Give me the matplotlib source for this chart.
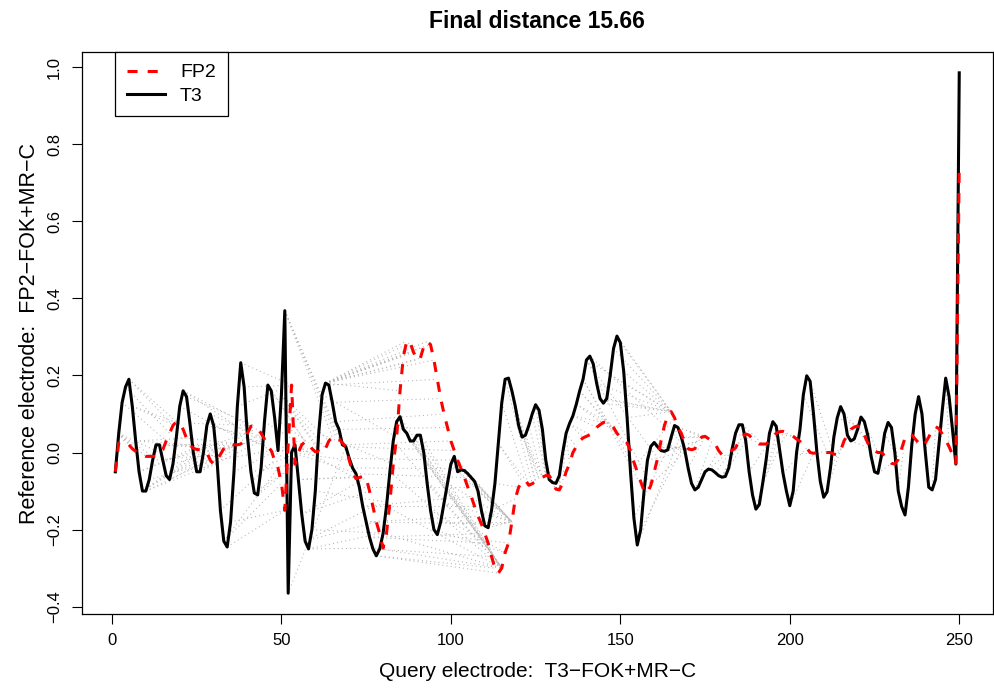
import numpy as np
import matplotlib
matplotlib.use("Agg")
import matplotlib.pyplot as plt

plt.rcParams['font.family'] = ['Liberation Sans', 'DejaVu Sans']

# ==========================================================
# DATA
# ==========================================================
# query series, T3-FOK+MR-C (black, solid), index 1..250
t3 = [
    -0.05, 0.05, 0.13, 0.17, 0.19, 0.12, 0.03, -0.05, -0.10, -0.10,
    -0.07, -0.02, 0.02, 0.02, -0.02, -0.06, -0.07, -0.03, 0.04, 0.12,
    0.16, 0.145, 0.076, 0.0, -0.05, -0.05, 0.0, 0.07, 0.10, 0.07,
    -0.02, -0.15, -0.23, -0.245, -0.18, -0.05, 0.12, 0.233, 0.17, 0.04,
    -0.05, -0.105, -0.11, -0.04, 0.08, 0.175, 0.16, 0.09, 0.005, 0.15,
    0.368, -0.365, 0.0, 0.02, -0.07, -0.16, -0.23, -0.25, -0.20, -0.10,
    0.05, 0.15, 0.18, 0.175, 0.13, 0.08, 0.06, 0.02, 0.015, -0.015,
    -0.04, -0.055, -0.09, -0.14, -0.18, -0.22, -0.25, -0.268, -0.25, -0.21,
    -0.14, -0.05, 0.03, 0.08, 0.093, 0.06, 0.05, 0.03, 0.03, 0.045,
    0.045, 0.0, -0.08, -0.15, -0.20, -0.213, -0.18, -0.13, -0.08, -0.03,
    -0.01, -0.05, -0.045, -0.047, -0.055, -0.065, -0.075, -0.10, -0.15, -0.19,
    -0.195, -0.15, -0.08, 0.024, 0.128, 0.19, 0.193, 0.16, 0.12, 0.07,
    0.04, 0.045, 0.07, 0.10, 0.124, 0.11, 0.06, -0.02, -0.07, -0.078,
    -0.08, -0.06, 0.0, 0.05, 0.075, 0.095, 0.125, 0.16, 0.19, 0.24,
    0.25, 0.23, 0.18, 0.14, 0.128, 0.14, 0.20, 0.27, 0.302, 0.285,
    0.21, 0.09, -0.05, -0.17, -0.24, -0.20, -0.10, -0.02, 0.016, 0.026,
    0.015, 0.005, 0.003, 0.007, 0.04, 0.07, 0.065, 0.04, 0.007, -0.04,
    -0.08, -0.097, -0.09, -0.07, -0.05, -0.043, -0.045, -0.052, -0.06, -0.064,
    -0.062, -0.04, 0.01, 0.05, 0.072, 0.072, 0.03, -0.05, -0.11, -0.147,
    -0.135, -0.08, -0.02, 0.05, 0.08, 0.068, 0.007, -0.054, -0.10, -0.138,
    -0.10, 0.0, 0.06, 0.15, 0.199, 0.185, 0.10, 0.0, -0.075, -0.116,
    -0.102, -0.04, 0.04, 0.09, 0.119, 0.10, 0.045, 0.03, 0.035, 0.06,
    0.092, 0.08, 0.045, -0.01, -0.05, -0.054, -0.01, 0.05, 0.078, 0.065,
    0.0, -0.10, -0.14, -0.162, -0.09, 0.02, 0.10, 0.145, 0.10, 0.0,
    -0.09, -0.097, -0.07, 0.02, 0.11, 0.193, 0.145, 0.06, -0.03, 0.985,
]

# reference series, FP2-FOK+MR-C (red, dashed), index 1..250
fp2 = [
    -0.05, 0.025, 0.028, 0.022, 0.02, 0.01, 0.003, -0.003, -0.006, -0.01,
    -0.01, -0.01, -0.01, 0.0, 0.007, 0.03, 0.05, 0.07, 0.08, 0.075,
    0.06, 0.037, 0.02, 0.011, 0.008, 0.007, 0.003, 0.0, -0.02, -0.03,
    -0.02, -0.005, 0.01, 0.02, 0.022, 0.02, 0.02, 0.022, 0.03, 0.05,
    0.068, 0.07, 0.062, 0.05, 0.035, 0.015, 0.005, -0.02, -0.04, -0.08,
    -0.15, 0.02, 0.175, -0.03, 0.0, 0.02, 0.028, 0.025, 0.01, 0.002,
    0.003, -0.002, 0.01, 0.03, 0.04, 0.042, 0.035, 0.025, 0.015, -0.02,
    -0.05, -0.068, -0.065, -0.062, -0.065, -0.10, -0.14, -0.18, -0.21, -0.248,
    -0.21, -0.13, -0.03, 0.04, 0.16, 0.25, 0.29, 0.285, 0.26, 0.24,
    0.245, 0.275, 0.288, 0.28, 0.24, 0.19, 0.14, 0.10, 0.065, 0.03,
    0.005, -0.02, -0.042, -0.065, -0.09, -0.114, -0.14, -0.165, -0.185, -0.21,
    -0.235, -0.27, -0.30, -0.313, -0.30, -0.26, -0.235, -0.18, -0.12, -0.09,
    -0.075, -0.072, -0.085, -0.081, -0.075, -0.068, -0.064, -0.06, -0.06, -0.075,
    -0.095, -0.097, -0.08, -0.05, -0.03, 0.0, 0.015, 0.03, 0.038, 0.042,
    0.046, 0.055, 0.065, 0.072, 0.078, 0.08, 0.075, 0.065, 0.05, 0.04,
    0.033, 0.025, 0.005, -0.025, -0.05, -0.075, -0.10, -0.105, -0.085, -0.05,
    -0.015, 0.03, 0.07, 0.095, 0.106, 0.09, 0.065, 0.05, 0.025, 0.01,
    0.007, 0.01, 0.03, 0.04, 0.042, 0.036, 0.03, 0.022, 0.005, -0.006,
    -0.006, -0.002, 0.006, 0.012, 0.03, 0.042, 0.048, 0.045, 0.035, 0.028,
    0.022, 0.022, 0.022, 0.03, 0.04, 0.05, 0.054, 0.055, 0.052, 0.048,
    0.042, 0.035, 0.029, 0.02, 0.012, 0.0, -0.002, 0.0, 0.0, 0.001,
    0.0, 0.0, -0.004, -0.006, 0.005, 0.03, 0.045, 0.06, 0.066, 0.069,
    0.065, 0.045, 0.025, 0.01, 0.004, 0.0, 0.0, -0.008, -0.018, -0.028,
    -0.03, -0.018, 0.01, 0.038, 0.048, 0.045, 0.035, 0.025, 0.016, 0.025,
    0.04, 0.058, 0.067, 0.062, 0.048, 0.033, 0.015, -0.005, -0.028, 0.75,
]

# warping path pairs that are drawn as dotted match lines (query index, reference index)
match_query = [
    1, 2, 2, 2, 2, 2, 2, 2, 3, 4, 5, 5,
    6, 6, 7, 7, 8, 8, 9, 9, 9, 10, 10,
    11, 12, 13, 13, 14, 15, 16, 17, 18,
    19, 20, 21, 21, 22, 23, 24, 25, 26, 27, 28, 29,
    30, 31, 32, 33, 33, 34, 35, 36, 37, 38,
    39, 40, 41, 42, 43, 44, 45, 46, 47, 48, 49, 49,
    50, 50, 50, 50, 51, 51, 51, 51,
    52, 53, 53, 54, 55, 55, 56, 56, 57, 57, 58, 58,
    59, 60, 61, 62, 63,
    63, 63, 63, 63, 63, 63, 63, 63, 63, 63,
    64, 65, 66, 67, 68, 69, 70, 71, 72, 73, 74, 74, 75, 75, 76, 76, 77, 78, 78,
    79, 80, 81, 82, 83, 84, 85, 86, 87, 88, 89, 90, 91, 92, 93, 94, 95, 96,
    97, 98, 99, 100, 101, 102, 103, 104, 105, 106, 107, 108, 109, 110, 111,
    112, 113, 114, 114, 115, 116, 117, 118, 119, 120, 121, 122, 123, 124, 125, 126,
    127, 128, 129, 130, 131, 132, 133,
    134, 134, 134, 135, 135, 136, 136, 137, 137, 138, 138, 139, 139, 140, 140, 141,
    142, 143, 144, 145, 146, 147, 148, 149, 150, 151, 152,
    153, 154, 155, 156, 157, 158, 159, 160, 161, 162, 163, 164, 165, 166, 167, 168, 169, 170,
    172, 174, 176, 178, 180, 180, 182, 184, 186, 188, 190, 190, 192, 194, 196, 198, 200,
    202, 204, 206, 208, 210, 212, 214, 216, 218, 220, 222, 224, 226, 228, 230,
    232, 234, 236, 238, 240, 242, 244, 246, 248, 249, 250,
]
match_ref = [
    1, 2, 4, 6, 8, 10, 12, 14, 16, 17, 18, 19,
    20, 21, 22, 23, 24, 25, 26, 27, 28, 29, 30,
    31, 32, 33, 34, 35, 36, 37, 37, 37,
    38, 39, 40, 41, 42, 42, 43, 44, 45, 45, 45, 45,
    46, 47, 48, 49, 50, 51, 51, 52, 53, 53,
    53, 54, 54, 54, 54, 55, 56, 57, 57, 58, 59, 60,
    61, 62, 63, 64, 65, 66, 67, 68,
    69, 70, 71, 72, 73, 74, 75, 76, 77, 78, 79, 80,
    81, 82, 83, 84, 85,
    86, 87, 88, 89, 90, 91, 92, 93, 94, 95,
    96, 97, 98, 99, 100, 101, 102, 103, 104, 105, 106, 107, 108, 109, 110, 111, 112, 113, 114,
    115, 115, 115, 115, 115, 115, 115, 115, 115, 115, 115, 115, 115, 115, 115, 116, 116, 117,
    118, 118, 118, 118, 118, 118, 118, 118, 118, 118, 118, 118, 118, 118, 118,
    119, 120, 121, 122, 123, 124, 125, 125, 126, 126, 127, 127, 127, 128, 128, 128,
    129, 130, 131, 131, 132, 132, 132,
    133, 135, 137, 139, 141, 143, 145, 147, 149, 151, 153, 155, 157, 159, 161, 163,
    165, 165, 165, 165, 165, 165, 165, 165, 165, 165, 165,
    166, 167, 168, 169, 170, 171, 171, 171, 172, 172, 173, 173, 174, 174, 175, 175, 175, 175,
    177, 179, 181, 183, 185, 186, 188, 190, 192, 194, 196, 197, 199, 201, 203, 205, 207,
    209, 211, 213, 215, 216, 218, 220, 222, 224, 224, 226, 228, 230, 232, 232,
    234, 236, 238, 240, 241, 243, 245, 247, 249, 249, 250,
]

idx = np.arange(1, len(t3) + 1)
t3 = np.array(t3)
fp2 = np.array(fp2)

# ==========================================================
# PLOT
# ==========================================================
fig = plt.figure(figsize=(9.95, 6.91), dpi=100)
ax = fig.add_axes([0.082, 0.1114, 0.916, 0.8133])

# dotted match lines (gray70, lty 3)
for q, r in zip(match_query, match_ref):
    ax.plot([q, r], [t3[q - 1], fp2[r - 1]], color='#b3b3b3',
            linestyle=(0, (1, 3)), linewidth=0.75, zorder=1)

ax.plot(idx, t3, color='black', linewidth=2.2, label='T3', zorder=2)
ax.plot(idx, fp2, color='red', linewidth=2.2, dashes=(3.3, 3.3),
        label='FP2', zorder=3)

ax.set_xlim(-8.96, 259.96)
ax.set_ylim(-0.419, 1.039)
ax.set_xticks([0, 50, 100, 150, 200, 250])
ax.set_yticks([-0.4, -0.2, 0.0, 0.2, 0.4, 0.6, 0.8, 1.0])
ax.set_yticklabels(['\u22120.4', '\u22120.2', '0.0', '0.2', '0.4', '0.6', '0.8', '1.0'],
                   rotation=90, va='center')
ax.tick_params(axis='both', direction='out', length=7, width=0.8,
               labelsize=12, pad=7)
for s in ax.spines.values():
    s.set_linewidth(0.9)

ax.set_title('Final distance 15.66', fontsize=16.5, fontweight='bold', pad=17)
ax.set_xlabel('Query electrode:  T3\u2212FOK+MR\u2212C', fontsize=15, labelpad=10)
ax.set_ylabel('Reference electrode:  FP2\u2212FOK+MR\u2212C', fontsize=15.5, labelpad=5)

h, l = ax.get_legend_handles_labels()
leg = ax.legend([h[1], h[0]], [l[1], l[0]], loc='upper left',
                bbox_to_anchor=(0.0366, 1.0), borderaxespad=0,
                fancybox=False, edgecolor='black', framealpha=1,
                fontsize=14, handlelength=1.95, handletextpad=0.8,
                borderpad=0.6, labelspacing=0.3)
leg.get_frame().set_linewidth(0.9)

fig.savefig('out.png', dpi=100)
